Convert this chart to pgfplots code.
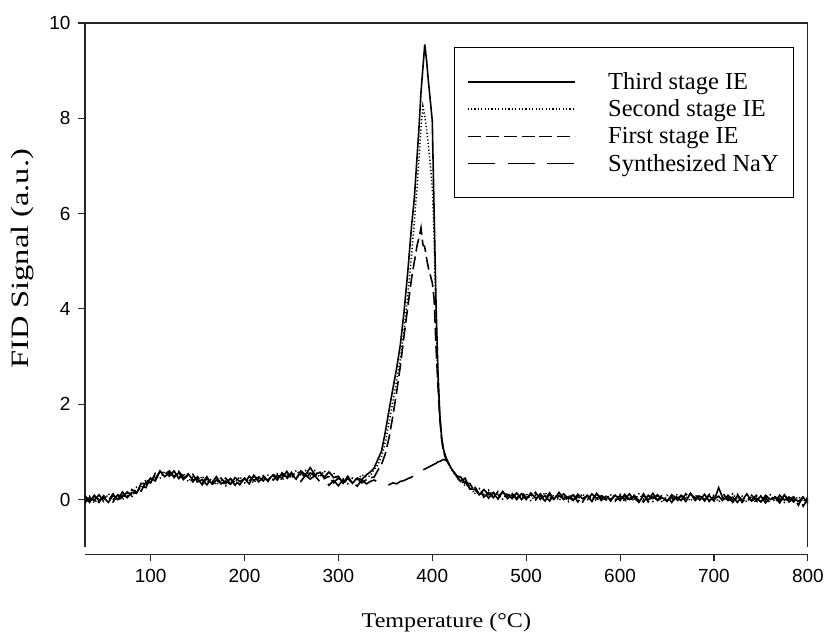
\documentclass[border=0pt]{standalone}
\usepackage{fontspec}
\setmainfont{Liberation Serif}
\setsansfont{Liberation Sans}
\usepackage{graphicx}
\usepackage{pgfplots}
\usepackage{pgfplotstable}
\pgfplotsset{compat=1.18}

\pgfplotstableread{
T third second first nay
30 0.05 -0.04 0.08 -0.07
35 -0.06 0.07 -0.02 0.04
40 0.09 -0.07 0.05 -0.02
45 -0.02 0.04 -0.06 0.10
50 0.04 -0.04 0.08 -0.03
55 -0.06 0.12 -0.02 0.05
60 0.09 0.01 0.12 -0.05
65 0.00 0.09 -0.04 0.10
70 0.16 -0.01 0.09 0.05
75 0.04 0.13 0.05 0.16
80 0.15 0.05 0.21 0.10
85 0.13 0.26 0.14 0.25
90 0.34 0.24 0.29 0.18
95 0.32 0.42 0.25 0.37
100 0.45 0.36 0.46 0.35
105 0.39 0.49 0.44 0.55
110 0.60 0.44 0.59 0.49
115 0.48 0.59 0.53 0.58
120 0.57 0.53 0.60 0.49
125 0.49 0.59 0.46 0.60
130 0.56 0.47 0.59 0.44
135 0.42 0.55 0.46 0.52
140 0.54 0.38 0.50 0.43
145 0.41 0.47 0.37 0.53
150 0.44 0.36 0.48 0.37
155 0.31 0.49 0.35 0.42
160 0.45 0.37 0.48 0.31
165 0.34 0.43 0.30 0.44
170 0.48 0.31 0.41 0.37
175 0.33 0.42 0.34 0.45
180 0.39 0.29 0.45 0.34
185 0.32 0.45 0.33 0.44
190 0.46 0.36 0.41 0.30
195 0.38 0.48 0.31 0.43
200 0.44 0.35 0.45 0.34
205 0.33 0.43 0.38 0.49
210 0.51 0.35 0.50 0.40
215 0.37 0.48 0.42 0.47
220 0.47 0.43 0.50 0.39
225 0.41 0.51 0.38 0.52
230 0.51 0.42 0.54 0.39
235 0.41 0.54 0.45 0.51
240 0.56 0.40 0.52 0.45
245 0.47 0.53 0.43 0.59
250 0.53 0.45 0.57 0.46
255 0.43 0.61 0.43 0.49
260 0.60 0.52 0.59 0.38
265 0.52 0.61 0.44 0.51
270 0.67 0.50 0.56 0.43
275 0.52 0.61 0.49 0.50
280 0.57 0.47 0.59 0.38
285 0.47 0.60 0.44 0.45
290 0.58 0.48 0.49 0.30
295 0.46 0.56 0.35 0.40
300 0.49 0.40 0.46 0.29
305 0.34 0.44 0.35 0.42
310 0.49 0.33 0.44 0.31
315 0.34 0.45 0.35 0.37
320 0.45 0.41 0.44 0.28
325 0.42 0.52 0.35 0.41
330 0.52 0.47 0.42 0.33
334 0.58 0.50 0.46 0.38
338 0.66 0.63 0.47 0.41
342 0.84 0.73 0.61 0.37
346 1.02 0.91 0.74 0.33
350 1.42 1.20 0.96 0.34
354 1.88 1.62 1.30 0.31
358 2.32 2.05 1.75 0.35
362 2.75 2.50 2.25 0.33
366 3.25 2.95 2.80 0.38
370 3.95 3.55 3.45 0.40
374 4.80 4.30 4.05 0.44
378 5.75 5.15 4.65 0.47
381 6.35 5.85 5.00 0.52
384 7.25 6.60 5.35 0.58
386 7.85 7.20 5.50 0.57
388 8.55 7.80 5.70 0.60
390 9.05 8.25 5.35 0.62
392 9.55 8.05 5.30 0.64
394 9.20 7.75 5.05 0.66
396 8.75 7.40 4.85 0.68
398 8.35 7.00 4.70 0.70
400 7.95 6.55 4.55 0.72
402 6.00 5.50 4.20 0.74
404 4.10 3.80 3.20 0.76
406 2.70 2.60 2.40 0.79
408 1.80 1.75 1.70 0.80
410 1.30 1.25 1.25 0.82
412 1.05 1.02 1.00 0.84
414 0.92 0.90 0.88 0.83
416 0.82 0.80 0.80 0.80
418 0.74 0.72 0.72 0.72
420 0.66 0.64 0.65 0.65
423 0.58 0.57 0.57 0.57
426 0.50 0.49 0.49 0.49
430 0.38 0.47 0.34 0.48
435 0.45 0.28 0.38 0.34
440 0.22 0.31 0.23 0.34
445 0.22 0.12 0.28 0.17
450 0.10 0.23 0.11 0.22
455 0.21 0.11 0.16 0.05
460 0.10 0.20 0.03 0.15
465 0.14 0.05 0.15 0.04
470 0.01 0.11 0.06 0.17
475 0.17 0.01 0.16 0.06
480 0.02 0.13 0.07 0.12
485 0.10 0.06 0.13 0.02
490 0.03 0.13 0.00 0.14
495 0.12 0.03 0.15 0.00
500 0.00 0.13 0.04 0.10
505 0.14 -0.02 0.10 0.03
510 0.03 0.09 -0.01 0.15
515 0.08 0.00 0.12 0.01
520 -0.03 0.15 0.01 0.08
525 0.11 0.03 0.14 -0.03
530 0.01 0.10 -0.03 0.11
535 0.15 -0.02 0.08 0.04
540 0.00 0.09 0.01 0.12
545 0.06 -0.04 0.12 0.01
550 -0.02 0.11 -0.01 0.10
555 0.11 0.01 0.06 -0.05
560 0.02 0.12 -0.05 0.07
565 0.08 -0.01 0.09 -0.02
570 -0.04 0.06 0.01 0.12
575 0.13 -0.03 0.12 0.02
580 -0.02 0.09 0.03 0.08
585 0.07 0.03 0.10 -0.01
590 0.00 0.10 -0.03 0.11
595 0.09 0.00 0.12 -0.03
600 -0.02 0.11 0.02 0.08
605 0.11 -0.05 0.07 0.00
610 0.00 0.06 -0.04 0.12
615 0.05 -0.03 0.09 -0.02
620 -0.06 0.12 -0.02 0.05
625 0.09 0.01 0.12 -0.05
630 -0.01 0.08 -0.05 0.09
635 0.13 -0.04 0.06 0.02
640 -0.02 0.07 -0.01 0.10
645 0.04 -0.06 0.10 -0.01
650 -0.04 0.09 -0.03 0.08
655 0.10 0.00 0.05 -0.06
660 0.01 0.11 -0.06 0.06
665 0.08 -0.01 0.09 -0.02
670 -0.04 0.06 0.01 0.12
675 0.13 -0.03 0.12 0.02
680 -0.02 0.09 0.03 0.08
685 0.07 0.03 0.10 -0.01
690 0.00 0.10 -0.03 0.11
695 0.08 -0.01 0.11 -0.04
700 -0.03 0.10 0.01 0.07
705 0.25 -0.05 0.07 0.00
710 0.00 0.06 -0.04 0.12
715 0.05 -0.03 0.09 -0.02
720 -0.06 0.12 -0.02 0.05
725 0.08 0.00 0.11 -0.06
730 -0.02 0.07 -0.06 0.08
735 0.12 -0.05 0.05 0.01
740 -0.03 0.06 -0.02 0.09
745 0.03 -0.07 0.09 -0.02
750 -0.05 0.08 -0.04 0.07
755 0.09 -0.01 0.04 -0.07
760 0.00 0.10 -0.07 0.05
765 0.05 -0.04 0.06 -0.05
770 -0.07 0.03 -0.02 0.09
775 0.10 -0.06 0.09 -0.01
780 -0.05 0.06 0.00 0.05
785 0.03 -0.01 0.06 -0.05
790 -0.04 0.06 -0.12 0.07
795 0.05 -0.04 0.08 -0.14
800 -0.08 0.05 -0.04 0.02
}\tpr

\begin{document}
\begin{tikzpicture}
\begin{axis}[
  scale only axis,
  width=724pt, height=525pt,
  xmin=30, xmax=800, ymin=-1, ymax=10,
  axis x line*=bottom, axis y line*=left,
  axis x line shift=7pt,
  x axis line style={-}, y axis line style={-},
  axis line style={line width=1.3pt, black!85},
  xtick={100,200,...,800}, ytick={0,2,...,10},
  tick align=outside, major tick length=7pt,
  tick style={line width=1.1pt, black!85},
  tick label style={font=\sffamily\fontsize{19}{19}\selectfont},
  xticklabel style={yshift=-5pt},
  yticklabel style={xshift=-4pt},
  /pgf/number format/assume math mode=true,
  clip=false,
  xlabel={\scalebox{1.15}[1]{Temperature (°C)}},
  ylabel={\scalebox{1.3}[1]{FID Signal (a.u.)}},
  every axis x label/.style={at={(rel axis cs:0.5,-0.143)}, anchor=center, font=\fontsize{21}{21}\selectfont},
  every axis y label/.style={at={(rel axis cs:-0.0856,0.55)}, rotate=90, anchor=center, font=\fontsize{25}{25}\selectfont},
  legend style={at={(rel axis cs:0.511,0.954)}, anchor=north west, draw=black, line width=1pt,
    font=\fontsize{24.5}{28}\selectfont, inner xsep=12pt, inner ysep=22pt, row sep=3pt, column sep=29pt,
    nodes={inner sep=3pt}},
  legend cell align=left,
  legend image code/.code={\draw[#1] (0pt,0pt) -- (108pt,0pt);},
]
\addplot[black, line width=1.6pt] table[x=T, y=third] {\tpr};
\addlegendentry{Third stage IE}
\addplot[black, line width=1.5pt, dash pattern=on 1.2pt off 2.2pt] table[x=T, y=second] {\tpr};
\addlegendentry{Second stage IE}
\addplot[black, line width=1.6pt, dash pattern=on 13pt off 5pt] table[x=T, y=first] {\tpr};
\addlegendentry{First stage IE}
\addplot[black, line width=1.6pt, dash pattern=on 27pt off 13pt] table[x=T, y=nay] {\tpr};
\addlegendentry{Synthesized NaY}
\draw[line width=1.3pt, black!85] (rel axis cs:0,1) -- (rel axis cs:1,1) -- (rel axis cs:1,0);
\path (rel axis cs:-0.1174,1.0438) rectangle (rel axis cs:1.0249,-0.1752);
\end{axis}
\end{tikzpicture}
\end{document}
